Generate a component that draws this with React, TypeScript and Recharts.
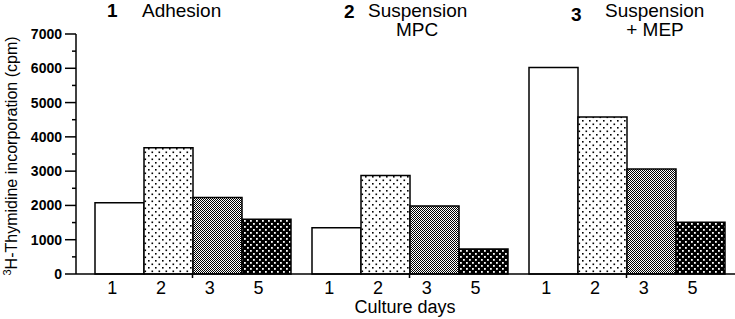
import { Bar, BarChart, Label, XAxis, YAxis } from "recharts";

const days = ["1", "2", "3", "5"];
const groups = ["Adhesion", "Suspension MPC", "Suspension + MEP"];
const day1 = [2080, 1350, 6020];
const day2 = [3680, 2870, 4580];
const day3 = [2230, 1980, 3060];
const day5 = [1600, 730, 1510];
const yTicks = [0, 500, 1000, 1500, 2000, 2500, 3000, 3500, 4000, 4500, 5000, 5500, 6000, 6500, 7000];
const titleNums = ["1", "2", "3"];
const titleLines = [["Adhesion"], ["Suspension", "MPC"], ["Suspension", "+ MEP"]];

const W = 735;
const H = 319;
const AXIS_X = 76;
const PAD_L = 8;
const GAP = 11;
const band = (W - AXIS_X - PAD_L) / 3;
const barW = (band - 2 * GAP) / 4;
const FONT = "'Liberation Sans', Arial, Helvetica, sans-serif";

// title placement: number x/y, first line start x, second line center x
const titlePos = [
  { nx: 107, ny: 17, tx: 142, cx2: 0 },
  { nx: 344, ny: 18, tx: 368, cx2: 417 },
  { nx: 571, ny: 21, tx: 605, cx2: 655 },
];

const data = groups.map((g, i) => ({ group: g, d1: day1[i], d2: day2[i], d3: day3[i], d5: day5[i] }));

function YTick({ x, y, payload }: any) {
  const v = payload.value;
  const major = v % 1000 === 0;
  return (
    <g>
      <line x1={x - (major ? 11 : 4)} x2={x} y1={y} y2={y} stroke="#000" strokeWidth={1.5} />
      {major && (
        <text x={x - 14} y={y} dy={5} textAnchor="end" fontSize={14} fontWeight="bold" fontFamily={FONT} fill="#000">
          {v}
        </text>
      )}
    </g>
  );
}

function XTick({ x, y }: any) {
  return (
    <g>
      {days.map((d, i) => (
        <text key={d} x={x + (i - 1.5) * barW - 7} y={y + 14} textAnchor="middle" fontSize={18} fontFamily={FONT} fill="#000">
          {d}
        </text>
      ))}
    </g>
  );
}

export default function App() {
  return (
    <div style={{ position: "absolute", left: 0, top: 0, width: W, height: H, background: "#fff" }}>
      <BarChart width={W} height={H} data={data} margin={{ top: 34, right: 0, bottom: 0, left: 0 }} barGap={0} barCategoryGap={GAP}>
        <defs>
          <pattern id="p2" width={7} height={7} patternUnits="userSpaceOnUse">
            <rect width={7} height={7} fill="#fff" />
            <rect x={1} y={1} width={1.6} height={1.6} fill="#000" />
            <rect x={4.5} y={4.5} width={1.6} height={1.6} fill="#000" />
          </pattern>
          <pattern id="p3" width={2} height={2} patternUnits="userSpaceOnUse">
            <rect width={2} height={2} fill="#fff" />
            <rect x={0} y={0} width={1} height={1} fill="#000" />
            <rect x={1} y={1} width={1} height={1} fill="#000" />
          </pattern>
          <pattern id="p5" width={6} height={6} patternUnits="userSpaceOnUse">
            <rect width={6} height={6} fill="#000" />
            <rect x={1} y={1} width={1.8} height={1.8} fill="#fff" />
            <rect x={4} y={4} width={1.8} height={1.8} fill="#fff" />
          </pattern>
        </defs>
        <XAxis
          dataKey="group"
          height={45}
          padding={{ left: PAD_L, right: 0 }}
          interval={0}
          tickSize={4}
          tickMargin={2}
          tickLine={{ stroke: "#000", strokeWidth: 1.5 }}
          axisLine={{ stroke: "#000", strokeWidth: 1.5 }}
          tick={(p: any) => <XTick {...p} />}
        >
          <Label
            content={() => (
              <text x={405} y={313} textAnchor="middle" fontSize={18} fontFamily={FONT} fill="#000">
                Culture days
              </text>
            )}
          />
        </XAxis>
        <YAxis
          width={AXIS_X}
          domain={[0, 7000]}
          ticks={yTicks}
          interval={0}
          tickSize={0}
          tickMargin={0}
          tickLine={false}
          axisLine={{ stroke: "#000", strokeWidth: 1.5 }}
          tick={(p: any) => <YTick {...p} />}
        >
          <Label
            content={() => (
              <text transform="rotate(-90)" x={-156} y={17} textAnchor="middle" fontSize={16} fontFamily={FONT} fill="#000">
                <tspan fontSize={11} dy={-6}>3</tspan>
                <tspan dy={6}>H-Thymidine incorporation (cpm)</tspan>
              </text>
            )}
          />
        </YAxis>
        <Bar dataKey="d1" fill="#fff" stroke="#000" strokeWidth={1.5} isAnimationActive={false} />
        <Bar dataKey="d2" fill="url(#p2)" stroke="#000" strokeWidth={1.5} isAnimationActive={false} />
        <Bar dataKey="d3" fill="url(#p3)" stroke="#000" strokeWidth={1.5} isAnimationActive={false} />
        <Bar dataKey="d5" fill="url(#p5)" stroke="#000" strokeWidth={1.5} isAnimationActive={false} />
        {titlePos.map((t, i) => (
          <g key={i} fontFamily={FONT} fill="#000">
            <text x={t.nx} y={t.ny} fontSize={19} fontWeight="bold">{titleNums[i]}</text>
            <text x={t.tx} y={17} fontSize={19}>{titleLines[i][0]}</text>
            {titleLines[i][1] && (
              <text x={t.cx2} y={36} fontSize={19} textAnchor="middle">{titleLines[i][1]}</text>
            )}
          </g>
        ))}
      </BarChart>
    </div>
  );
}
